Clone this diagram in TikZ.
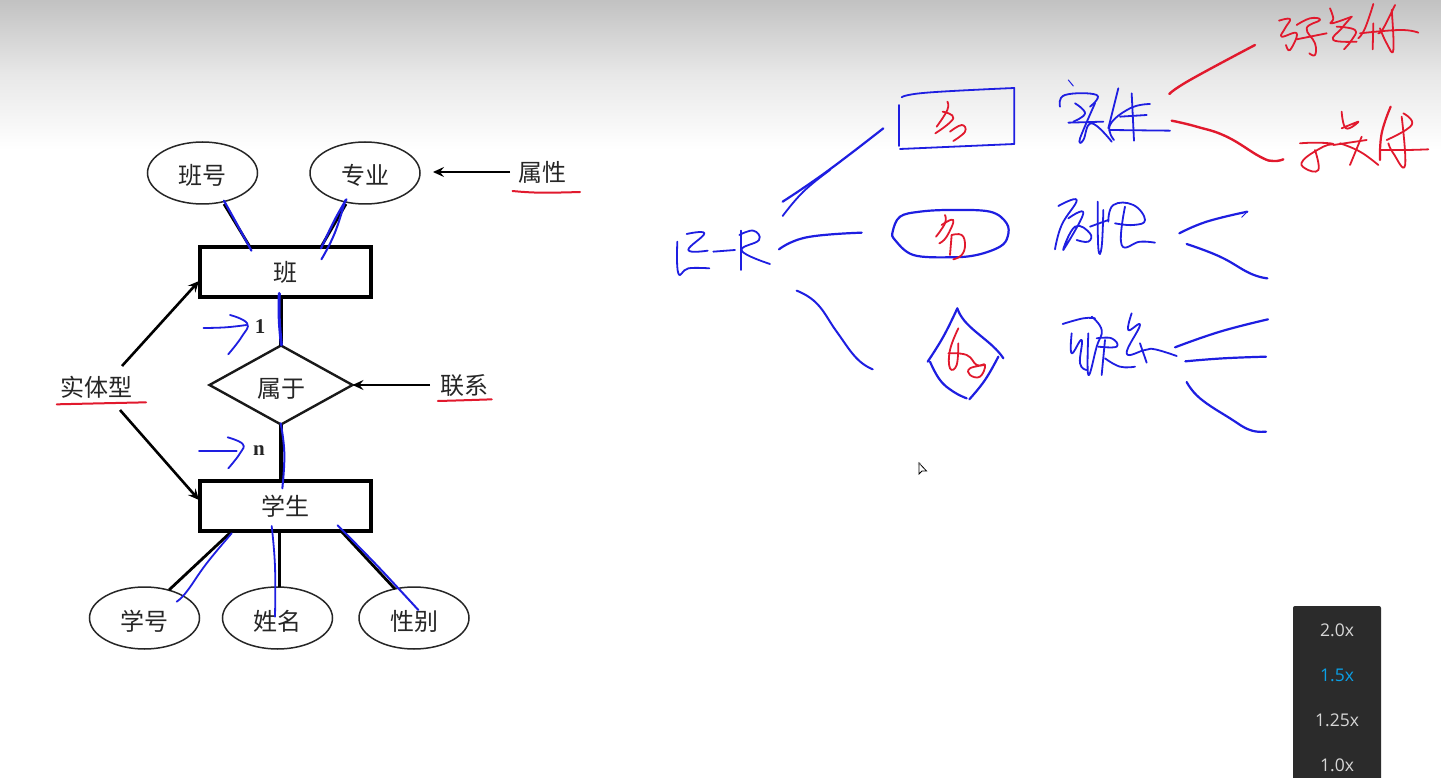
\documentclass[tikz,border=0pt]{standalone}
\usepackage{fontspec}
\setmainfont{Liberation Serif}
\newfontfamily\cjk{Noto Sans CJK SC}
\newfontfamily\uisans{Open Sans}
\usetikzlibrary{shapes.geometric,arrows.meta,calc}
\definecolor{inkblue}{RGB}{30,30,225}
\definecolor{inkred}{RGB}{225,25,45}
\definecolor{panel}{RGB}{43,43,43}
\definecolor{speedon}{RGB}{10,160,230}
\definecolor{speedoff}{RGB}{215,215,215}
\newcommand{\lowered}[1]{\raisebox{-12pt}[0pt][0pt]{#1}}
\tikzset{
  attr/.style={draw=black!85,line width=1.5pt,ellipse,minimum width=110pt,minimum height=62pt,inner sep=0pt,outer sep=0pt,font=\cjk\fontsize{24}{24}\selectfont,text=black!85},
  entity/.style={draw=black,line width=3.4pt,rectangle,minimum width=171pt,minimum height=50pt,inner sep=0pt,outer sep=0pt,font=\cjk\fontsize{24}{24}\selectfont,text=black!85},
  relship/.style={draw=black!90,line width=2.4pt,diamond,aspect=1.81,minimum width=143pt,minimum height=79pt,inner sep=0pt,outer sep=0pt,font=\cjk\fontsize{24}{24}\selectfont,text=black!85},
  tag/.style={inner sep=0pt,outer sep=0pt,font=\cjk\fontsize{24}{24}\selectfont,text=black!85},
  card/.style={inner sep=0pt,font=\bfseries\fontsize{21}{21}\selectfont,text=black!85},
  thinlink/.style={draw=black,line width=2.8pt},
  thicklink/.style={draw=black,line width=3.8pt},
  pointer/.style={draw=black,line width=2.6pt,-{Stealth[length=11pt,width=10pt,inset=4pt]}},
  speed/.style={inner sep=0pt,font=\uisans\fontsize{17.5}{17.5}\selectfont},
  bl/.style={draw=inkblue,line width=1.8pt,line cap=round,line join=round},
  rd/.style={draw=inkred,line width=1.8pt,line cap=round,line join=round},
}
\newcommand{\bst}[2][]{\draw[bl,#1] plot[smooth,tension=.75] coordinates {#2};}
\newcommand{\rst}[2][]{\draw[rd,#1] plot[smooth,tension=.75] coordinates {#2};}
\begin{document}
\begin{tikzpicture}[x=1pt,y=-1pt]
\useasboundingbox (0,0) rectangle (1441,778);
\fill[white] (0,0) rectangle (1441,778);
\fill[top color=black!24,bottom color=white,middle color=black!9] (0,0) rectangle (1441,150);

% printed E-R diagram
\node[attr] (banhao) at (202.5,173) {\lowered{班号}};
\node[attr] (zhuanye) at (365,173) {\lowered{专业}};
\node[entity] (ban) at (285.5,272) {班};
\node[relship] (shuyu) at (281,385) {\lowered{属于}};
\node[entity] (xuesheng) at (285.5,506) {学生};
\node[attr] (xuehao) at (144.5,618) {\lowered{学号}};
\node[attr] (xingming) at (277.5,618) {\lowered{姓名}};
\node[attr] (xingbie) at (414,618) {\lowered{性别}};
\node[tag] (shuxing) at (542,172) {属性};
\node[tag] (shiti) at (96,387) {实体型};
\node[tag] (lianxi) at (464,386) {联系};
\node[card] (one) at (260,327) {1};
\node[card] (many) at (259,451) {n};

\coordinate (a1) at (122,366);
\coordinate (a2) at (120,410);
\coordinate (a3) at (510,172);
\coordinate (a4) at (430,385);

\draw[thinlink] (224,204) -- ($(ban.north west)+(50,0)$);
\draw[thinlink] (346,204) -- ($(ban.north west)+(121,0)$);
\draw[thicklink] (ban.south -| shuyu.north) -- (shuyu.north);
\draw[thicklink] (shuyu.south) -- (xuesheng.north -| shuyu.south);
\draw[thinlink] ($(xuesheng.south west)+(32,0)$) -- (169,590);
\draw[line width=3pt] (279,531) -- (279,587);
\draw[thinlink] ($(xuesheng.south west)+(141,0)$) -- (395,589);
\draw[pointer] (a1) -- ($(ban.west)+(-1,9)$);
\draw[pointer] (a2) -- ($(xuesheng.west)+(-1,-6)$);
\draw[pointer] (a3) -- ($(zhuanye.east)+(13,-1)$);
\draw[pointer] (a4) -- (shuyu.east);

% annotations over the printed diagram (zoom 1 frame)
\begin{scope}[shift={(40,130)},x=.35714pt,y=-.33333pt]
\rst[line width=2pt]{(1323,183)(1400,188)(1512,186)}
\rst[line width=2pt]{(47,823)(170,820)(297,817)}
\rst[line width=2pt]{(1114,813)(1180,811)(1265,808)}
\bst[line width=2.2pt]{(515,212)(545,270)(592,362)}
\bst[line width=2.2pt]{(858,208)(825,270)(787,355)}
\bst[line width=2pt]{(855,210)(825,310)(788,388)}
\bst[line width=3pt]{(670,490)(670,570)(676,645)}
\bst{(458,594)(520,592)(578,585)}
\bst{(532,555)(580,580)(565,620)(527,673)}
\end{scope}
\begin{scope}[shift={(40,420)},x=.33333pt,y=-.33333pt]
\bst[line width=2pt]{(722,10)(733,100)(727,205)}
\bst{(477,92)(540,92)(590,92)}
\bst{(563,52)(608,72)(600,100)(565,145)}
\bst{(575,340)(500,430)(440,515)(410,545)}
\bst{(695,318)(705,440)(705,590)}
\bst[line width=2pt]{(893,316)(1000,425)(1075,505)(1135,570)}
\end{scope}

% E-R tree (zoom 3 frame)
\begin{scope}[shift={(660,60)},x=.33333pt,y=-.33333pt]
\bst{(725,112)(800,98)(1063,84)}
\draw[bl] (1063,84) -- (1063,252) -- (720,267);
\draw[bl] (716,135) -- (716,258);
\rst{(862,125)(862,150)(830,200)}
\rst{(848,155)(880,175)(826,220)}
\rst{(870,215)(905,195)(915,215)(880,243)}
\bst{(52,545)(55,640)(85,625)(148,625)}
\bst{(80,522)(133,520)(85,570)(143,572)}
\bst{(160,575)(225,570)}
\bst{(243,512)(243,630)}
\bst{(238,525)(280,512)(297,540)(245,572)(330,612)}
\bst[line width=2.2pt]{(368,425)(500,335)(670,205)}
\bst{(368,468)(430,395)(510,330)}
\bst[line width=2.2pt]{(357,568)(440,532)(605,518)}
\bst[line width=2pt]{(410,692)(470,730)(530,815)(590,895)(638,928)}
\draw[bl,line width=2.2pt] plot[smooth cycle,tension=.6] coordinates {(698,515)(720,470)(780,455)(870,450)(990,455)(1040,490)(1043,530)(1020,560)(950,585)(870,592)(760,585)(705,540)};
\rst{(855,465)(855,490)(828,530)}
\rst{(845,495)(880,480)(860,530)(838,550)}
\rst{(875,525)(905,525)(915,555)(905,585)(880,598)}
\rst{(875,525)(870,585)}
\bst[line width=2.2pt]{(803,905)(850,830)(892,745)}
\bst[line width=2.2pt]{(892,745)(920,790)(1000,860)(1030,895)}
\bst[line width=2.2pt]{(1015,890)(975,960)(928,1018)}
\bst[line width=2.2pt]{(810,905)(840,960)(880,995)(920,1015)}
\rst{(895,805)(870,870)(870,925)(890,915)(895,850)}
\rst{(865,880)(920,885)(950,915)(975,915)(960,950)(930,945)(930,925)(975,915)}
\end{scope}

% top-right branch (zoom 4 frame)
\begin{scope}[shift={(1040,0)},x=.33333pt,y=-.33333pt]
\bst[line width=1pt]{(85,240)(100,258)}
\bst{(60,320)(75,285)(170,285)(150,320)}
\bst{(105,310)(135,340)(100,365)}
\bst{(85,368)(190,365)}
\bst{(165,310)(130,390)(118,425)(130,420)(155,370)(215,425)}
\bst{(235,265)(205,385)}
\bst{(222,420)(210,375)(270,325)(330,312)}
\bst{(275,280)(282,422)}
\bst{(210,390)(390,392)}
\bst{(240,350)(320,345)}
\rst[line width=2.4pt]{(388,282)(450,240)(645,135)}
\rst[line width=2.4pt]{(395,362)(470,380)(560,410)(660,470)(700,483)(730,478)}
% first written word
\rst{(717,62)(750,57)(735,85)(725,110)(770,100)(750,150)(738,135)}
\rst{(770,75)(810,55)(840,60)(800,85)(825,130)(825,165)(808,160)}
\rst{(770,118)(860,100)}
\rst{(870,25)(880,55)(875,70)(935,50)}
\rst{(935,50)(905,85)(880,120)(950,125)}
\rst{(890,80)(945,90)(935,120)(912,148)}
\rst{(1000,12)(975,85)(955,115)}
\rst{(1000,70)(998,148)}
\rst{(1065,15)(1030,85)(1015,100)}
\rst{(1055,30)(1060,150)(1040,130)(1020,85)}
\rst{(960,100)(1080,90)(1135,98)}
% second written word
\rst{(780,430)(830,428)(880,432)(850,440)(790,480)(795,505)(835,510)(825,450)}
\rst{(905,335)(918,385)(955,365)(905,385)}
\rst{(880,435)(980,420)}
\rst{(965,410)(930,495)}
\rst{(900,430)(960,455)(1015,495)}
\rst[line width=2.2pt]{(1052,320)(1025,400)(1020,480)}
\rst{(1090,340)(1115,375)(1040,420)}
\rst{(1085,350)(1095,497)(1060,460)(1045,430)}
\rst{(1020,450)(1100,450)(1165,448)}
\end{scope}

% lower-right branches (zoom 5 frame)
\begin{scope}[shift={(1040,190)},x=.33333pt,y=-.33333pt]
\bst{(55,48)(110,30)(65,105)(45,178)}
\bst{(85,85)(130,70)(70,180)(105,110)(150,130)(145,155)(110,150)}
\bst{(173,35)(175,175)(185,170)(190,60)}
\bst{(150,110)(205,90)}
\bst{(205,95)(220,45)(280,45)(315,90)(280,105)(225,100)}
\bst{(255,50)(245,165)(300,155)(345,158)}
\bst[line width=2.2pt]{(418,130)(500,95)(622,65)}
\bst[line width=1pt]{(622,65)(605,82)}
\bst[line width=2.2pt]{(440,162)(540,200)(630,250)(682,265)}
\bst{(68,402)(130,385)(165,385)}
\bst{(155,380)(185,420)(170,470)(145,555)(145,430)}
\bst{(95,430)(95,490)(125,450)(120,520)(140,540)}
\bst{(170,445)(215,445)(230,470)(175,470)}
\bst{(195,450)(185,555)}
\bst{(195,505)(240,530)(285,530)}
\bst{(275,370)(265,420)(300,405)(260,490)(315,480)(345,478)(410,498)}
\bst{(300,460)(320,518)}
\bst[line width=2.2pt]{(405,472)(540,425)(684,388)}
\bst[line width=2.2pt]{(436,514)(550,505)(678,500)}
\bst[line width=2.2pt]{(440,576)(480,625)(570,685)(630,720)(678,725)}
\end{scope}

% cursor
\filldraw[draw=black,fill=white,line width=.8pt,line join=miter] (919,463) -- (919,474) -- (922,471) -- (926.5,471) -- cycle;
\fill[black!45,opacity=.6] (919.5,464) circle (1.8pt);

% speed panel
\fill[panel,rounded corners=2pt] (1293,606) rectangle (1381,790);
\node[speed,text=speedoff] (s20) at (1337,630.5) {2.0x};
\node[speed,text=speedon] (s15) at (1337,675.5) {1.5x};
\node[speed,text=speedoff] (s125) at (1337,720.5) {1.25x};
\node[speed,text=speedoff] (s10) at (1337,765.5) {1.0x};
\end{tikzpicture}
\end{document}
